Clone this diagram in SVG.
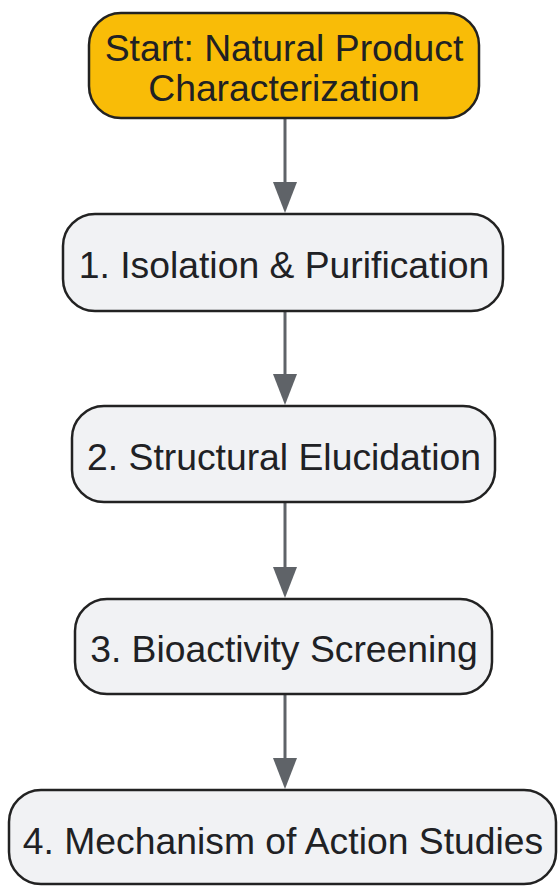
<svg xmlns="http://www.w3.org/2000/svg" width="558" height="887" viewBox="0 0 558 887">
<defs>
<style>
.node rect{stroke:#222222;stroke-width:2.5}
.proc rect{fill:#F1F2F4}
.start rect{fill:#F9BC07}
text{font-family:"Liberation Sans",Arial,sans-serif;font-size:37.3px;fill:#202124;text-anchor:middle}
.edge{stroke:#5F6368;stroke-width:3;fill:none}
</style>
</defs>
<g id="connectors">
<line class="edge" x1="285" y1="119" x2="285" y2="182"/>
<polygon points="273,182 297,182 285,213" fill="#5F6368"/>
<line class="edge" x1="285" y1="312" x2="285" y2="374"/>
<polygon points="273,374 297,374 285,405" fill="#5F6368"/>
<line class="edge" x1="285" y1="503" x2="285" y2="567"/>
<polygon points="273,567 297,567 285,598" fill="#5F6368"/>
<line class="edge" x1="285" y1="695" x2="285" y2="758"/>
<polygon points="273,758 297,758 285,789" fill="#5F6368"/>
</g>
<g id="start" class="node start">
<rect x="89" y="13" width="390" height="105" rx="32"/>
<text x="284" y="61">Start: Natural Product</text>
<text x="284" y="101">Characterization</text>
</g>
<g id="step1" class="node proc">
<rect x="63" y="214" width="440" height="97" rx="32"/>
<text x="284" y="278">1. Isolation &amp; Purification</text>
</g>
<g id="step2" class="node proc">
<rect x="72" y="406" width="423" height="96" rx="32"/>
<text x="284" y="470">2. Structural Elucidation</text>
</g>
<g id="step3" class="node proc">
<rect x="75" y="599" width="417" height="95" rx="32"/>
<text x="284" y="662">3. Bioactivity Screening</text>
</g>
<g id="step4" class="node proc">
<rect x="9" y="790" width="547" height="94" rx="32"/>
<text x="283" y="854">4. Mechanism of Action Studies</text>
</g>
</svg>
